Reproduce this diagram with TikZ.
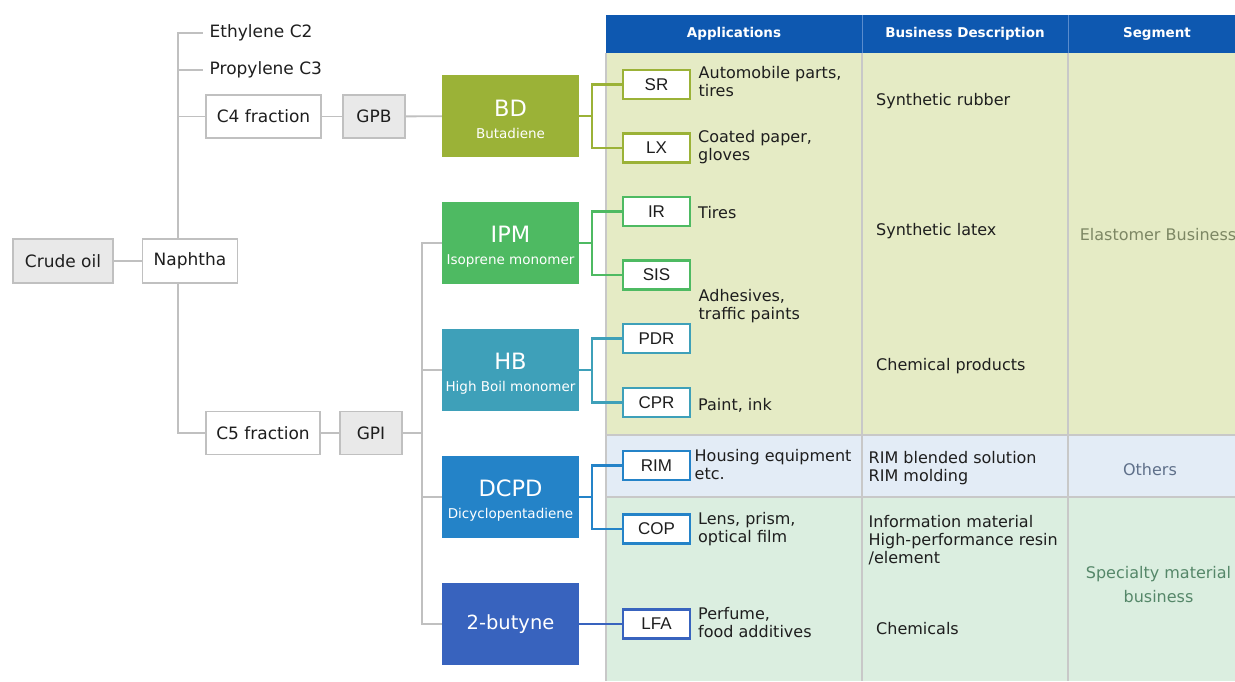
\documentclass[tikz,border=0pt]{standalone}
\usepackage{fontspec}
\setmainfont{DejaVu Sans}
\newfontfamily\gradefont{Liberation Sans}
\usepackage{tikz}
\usetikzlibrary{positioning}

\definecolor{linegray}{RGB}{192,192,192}
\definecolor{boxgray}{RGB}{233,233,233}
\definecolor{ink}{RGB}{30,30,30}
\definecolor{bdcol}{RGB}{155,178,55}
\definecolor{ipmcol}{RGB}{78,186,98}
\definecolor{hbcol}{RGB}{62,160,185}
\definecolor{dcpdcol}{RGB}{36,131,200}
\definecolor{butynecol}{RGB}{56,99,190}
\definecolor{headblue}{RGB}{14,88,176}
\definecolor{headline}{RGB}{90,140,205}
\definecolor{elastofill}{RGB}{229,235,197}
\definecolor{othersfill}{RGB}{227,236,246}
\definecolor{specfill}{RGB}{219,238,224}
\definecolor{gridgray}{RGB}{200,200,200}
\definecolor{elastotext}{RGB}{125,135,100}
\definecolor{otherstext}{RGB}{95,112,138}
\definecolor{spectext}{RGB}{85,135,105}

% monomer name over its full name
\newcommand{\prodname}[2]{\rule{0pt}{23pt}#1\\{\fontsize{13.5}{16}\selectfont #2}}

\tikzstyle{stock} = [rectangle, minimum height=44pt, text centered, draw=linegray, line width=1.5pt, fill=boxgray, text=ink, font=\fontsize{17}{20}\selectfont]
\tikzstyle{fraction} = [rectangle, minimum height=43pt, text centered, draw=linegray, line width=1.5pt, fill=white, text=ink, font=\fontsize{17}{20}\selectfont]
\tikzstyle{cut} = [anchor=west, inner xsep=6.5pt, text=ink, font=\fontsize{17}{20}\selectfont]
\tikzstyle{product} = [rectangle, minimum width=137pt, minimum height=82pt, align=center, text=white, font=\fontsize{22.5}{22}\selectfont]
\tikzstyle{gradebox} = [rectangle, minimum width=67pt, minimum height=29pt, line width=2.4pt, fill=white, text=ink, font=\gradefont\fontsize{17}{20}\selectfont]
\tikzstyle{apptext} = [anchor=west, inner sep=0pt, align=left, text=ink, font=\fontsize{16}{18}\selectfont]
\tikzstyle{head} = [text=white, font=\bfseries\fontsize{13.5}{16}\selectfont]
\tikzstyle{segtext} = [align=center, font=\fontsize{16}{24}\selectfont]
\tikzstyle{treeline} = [draw=linegray, line width=1.8pt]
\tikzstyle{feedline} = [line width=2.2pt]
\tikzstyle{gridline} = [draw=gridgray, line width=1.2pt]

\begin{document}
\begin{tikzpicture}[x=1pt, y=-1pt, node distance=127pt]
\useasboundingbox (0,0) rectangle (1235,681);
\clip (0,0) rectangle (1235,681);

        % table behind the grades
        \fill [headblue] (606,15) rectangle (1250,53);
        \fill [elastofill] (606,53) rectangle (1250,435);
        \fill [othersfill] (606,435) rectangle (1250,497);
        \fill [specfill] (606,497) rectangle (1250,681);
        \draw [gridline] (606,53) -- (606,681);
        \draw [gridline] (862,53) -- (862,681);
        \draw [gridline] (1068,53) -- (1068,681);
        \draw [gridline] (606,435) -- (1250,435);
        \draw [gridline] (606,497) -- (1250,497);
        \draw [headline, line width=1pt] (862,15) -- (862,53);
        \draw [headline, line width=1pt] (1068,15) -- (1068,53);

        \node (AppHead) [head] at (734,34) {Applications};
        \node (DescHead) [head] at (965,34) {Business Description};
        \node (SegHead) [head] at (1157,34) {Segment};

        % raw materials
        \node (CrudeOil) [stock, minimum width=100pt] at (63,261) {Crude oil};
        \node (Naphtha) [fraction, minimum width=95pt, minimum height=44pt, right of=CrudeOil] {Naphtha};
        \coordinate (trunk) at (178,261);
        \node (Ethylene) [cut] at (203,33) {Ethylene C2};
        \node (Propylene) [cut] at (203,70) {Propylene C3};
        \node (C4) [fraction, minimum width=115pt] at (263.5,116.5) {C4 fraction};
        \node (GPB) [stock, minimum width=62pt, minimum height=43pt, right of=C4, xshift=-16.5pt] {GPB};
        \node (C5) [fraction, minimum width=114pt] at (263,433) {C5 fraction};
        \node (GPI) [stock, minimum width=62pt, minimum height=43pt, right of=C5, xshift=-19pt] {GPI};
        \coordinate (fan) at (422,433);

        % monomers
        \node (BD) [product, fill=bdcol] at (510.5,116) {\prodname{BD}{Butadiene}};
        \node (IPM) [product, fill=ipmcol] at (510.5,243) {\prodname{IPM}{Isoprene monomer}};
        \node (HB) [product, fill=hbcol, below of=IPM] {\prodname{HB}{High Boil monomer}};
        \node (DCPD) [product, fill=dcpdcol, below of=HB] {\prodname{DCPD}{Dicyclopentadiene}};
        \node (Butyne) [product, fill=butynecol, below of=DCPD, font=\fontsize{19.5}{22}\selectfont] {2-butyne};

        % grades
        \node (SR) [gradebox, draw=bdcol] at (656.5,84.5) {SR};
        \node (LX) [gradebox, draw=bdcol] at (656.5,148) {LX};
        \node (IR) [gradebox, draw=ipmcol] at (656.5,211.5) {IR};
        \node (SIS) [gradebox, draw=ipmcol] at (656.5,275) {SIS};
        \node (PDR) [gradebox, draw=hbcol] at (656.5,338.5) {PDR};
        \node (CPR) [gradebox, draw=hbcol] at (656.5,402.5) {CPR};
        \node (RIM) [gradebox, draw=dcpdcol] at (656.5,465.5) {RIM};
        \node (COP) [gradebox, draw=dcpdcol] at (656.5,529) {COP};
        \node (LFA) [gradebox, draw=butynecol] at (656.5,624) {LFA};

        % applications
        \node (SRuse) [apptext] at (698.5,82) {Automobile parts,\\tires};
        \node (LXuse) [apptext] at (698,147) {Coated paper,\\gloves};
        \node (IRuse) [apptext] at (698,212.5) {Tires};
        \node (SISuse) [apptext] at (698.5,306.5) {Adhesives,\\traffic paints};
        \node (CPRuse) [apptext] at (698,405.5) {Paint, ink};
        \node (RIMuse) [apptext] at (694.5,464.5) {Housing equipment\\etc.};
        \node (COPuse) [apptext] at (698,529.5) {Lens, prism,\\optical film};
        \node (LFAuse) [apptext] at (698,623) {Perfume,\\food additives};

        % business description
        \node (RubberDesc) [apptext] at (876,101) {Synthetic rubber};
        \node (LatexDesc) [apptext] at (876,231) {Synthetic latex};
        \node (ChemProdDesc) [apptext] at (876,366) {Chemical products};
        \node (RimDesc) [apptext] at (868.5,468) {RIM blended solution\\RIM molding};
        \node (InfoDesc) [apptext] at (868.5,540) {Information material\\High-performance resin\\/element};
        \node (ChemDesc) [apptext] at (876,628.5) {Chemicals};

        % segments
        \node (Elastomer) [segtext, text=elastotext] at (1158,235) {Elastomer Business};
        \node (Others) [segtext, text=otherstext] at (1150,470) {Others};
        \node (Specialty) [segtext, text=spectext] at (1158.5,585) {Specialty material\\business};

        \draw [treeline] (CrudeOil) -- (Naphtha);
        \draw [treeline] (Naphtha.north -| trunk) |- (Ethylene.west);
        \draw [treeline] (trunk |- Propylene) -- (Propylene.west);
        \draw [treeline] (trunk |- C4) -- (C4);
        \draw [treeline] (Naphtha.south -| trunk) |- (C5.west);
        \draw [treeline] (C4) -- (GPB);
        \draw [treeline] (C5) -- (GPI);
        \draw [treeline] (GPB) -- (BD);
        \draw [treeline] (GPI) -- (fan);
        \draw [treeline] (IPM.west) -| (fan) |- (Butyne.west);
        \draw [treeline] (HB.west) -- (HB.west -| fan);
        \draw [treeline] (DCPD.west) -- (DCPD.west -| fan);

        \draw [feedline, bdcol] (BD.east) -- ++(13,0) |- (SR.west);
        \draw [feedline, bdcol] (BD.east) -- ++(13,0) |- (LX.west);
        \draw [feedline, ipmcol] (IPM.east) -- ++(13,0) |- (IR.west);
        \draw [feedline, ipmcol] (IPM.east) -- ++(13,0) |- (SIS.west);
        \draw [feedline, hbcol] (HB.east) -- ++(13,0) |- (PDR.west);
        \draw [feedline, hbcol] (HB.east) -- ++(13,0) |- (CPR.west);
        \draw [feedline, dcpdcol] (DCPD.east) -- ++(13,0) |- (RIM.west);
        \draw [feedline, dcpdcol] (DCPD.east) -- ++(13,0) |- (COP.west);
        \draw [feedline, butynecol] (Butyne) -- (LFA);

\end{tikzpicture}
\end{document}
